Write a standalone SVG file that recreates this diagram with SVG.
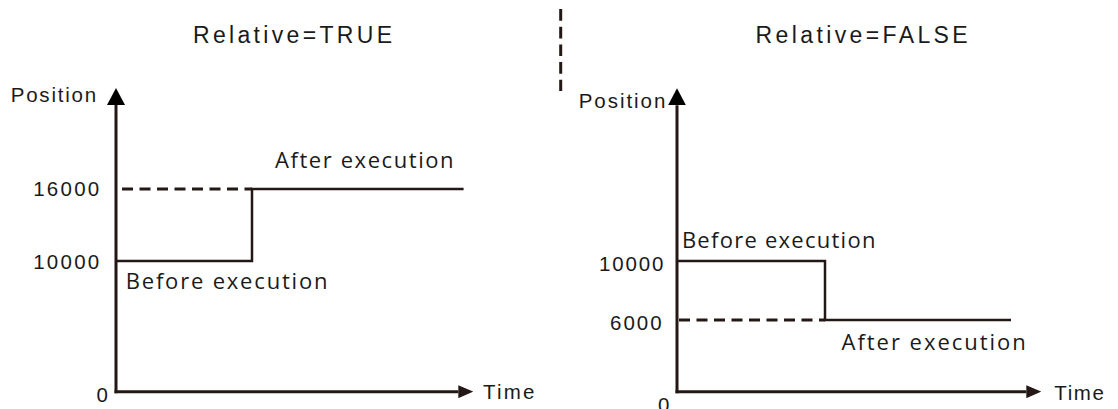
<svg xmlns="http://www.w3.org/2000/svg" width="1118" height="409" viewBox="0 0 1118 409">
<style>
.t{font-family:"Liberation Sans",Arial,sans-serif;fill:#1a1a1a}
.title{font-size:23px}
.lab{font-size:20.5px}
.ex{font-family:"Open Sans","Noto Sans",sans-serif;font-size:22px;fill:#1a1a1a}
.ax{stroke:#231815;stroke-width:3;fill:none}
.sol{stroke:#231815;stroke-width:2.5;fill:none}
.dash{stroke:#231815;stroke-width:3;fill:none;stroke-dasharray:11 6.5}
</style>
<defs>
<marker id="aUp" markerUnits="userSpaceOnUse" viewBox="0 0 17 18" markerWidth="17" markerHeight="18" refX="0" refY="9" orient="auto">
<path d="M0,0 L17,9 L0,18 z" fill="#000"/>
</marker>
<marker id="aRight" markerUnits="userSpaceOnUse" viewBox="0 0 15 13" markerWidth="15" markerHeight="13" refX="0" refY="6.5" orient="auto">
<path d="M0,0 L15,6.5 L0,13 z" fill="#231815"/>
</marker>
</defs>

<g id="divider">
<line x1="560.7" y1="9" x2="560.7" y2="91" stroke="#231815" stroke-width="3" stroke-dasharray="11.7 6"/>
</g>

<g id="chart-true">
<text id="title-true" class="t title" x="193" y="43.3" textLength="199" lengthAdjust="spacing">Relative=TRUE</text>
<text id="pos-true" class="t lab" x="10.7" y="101.7" textLength="85.5" lengthAdjust="spacing">Position</text>
<text id="v16000" class="t lab" x="33.2" y="195.5" textLength="66" lengthAdjust="spacing">16000</text>
<text id="v10000-true" class="t lab" x="33.2" y="268.5" textLength="66" lengthAdjust="spacing">10000</text>
<text id="zero-true" class="t lab" x="96.4" y="402.3">0</text>
<text id="time-true" class="t lab" x="483" y="398.5" textLength="51.5" lengthAdjust="spacing">Time</text>
<text id="after-true" class="ex" x="275" y="167.7" textLength="178.6" lengthAdjust="spacing">After execution</text>
<text id="before-true" class="ex" x="125.7" y="289.3" textLength="201.8" lengthAdjust="spacing">Before execution</text>
</g>

<g id="chart-false">
<text id="title-false" class="t title" x="755.6" y="43.3" textLength="212" lengthAdjust="spacing">Relative=FALSE</text>
<text id="pos-false" class="t lab" x="578.7" y="107.7" textLength="86.6" lengthAdjust="spacing">Position</text>
<text id="v10000-false" class="t lab" x="599" y="271" textLength="64.5" lengthAdjust="spacing">10000</text>
<text id="v6000" class="t lab" x="610" y="330" textLength="51.6" lengthAdjust="spacing">6000</text>
<text id="zero-false" class="t lab" x="658" y="412">0</text>
<text id="time-false" class="t lab" x="1054.2" y="400" textLength="49.8" lengthAdjust="spacing">Time</text>
<text id="before-false" class="ex" x="681.9" y="248.3" textLength="193.5" lengthAdjust="spacing">Before execution</text>
<text id="after-false" class="ex" x="841.5" y="350" textLength="184.3" lengthAdjust="spacing">After execution</text>
</g>

<g id="connectors">
<!-- left chart axes -->
<line class="ax" x1="116" y1="393.2" x2="116" y2="105" marker-end="url(#aUp)"/>
<line class="ax" x1="114.5" y1="391.7" x2="458.3" y2="391.7" marker-end="url(#aRight)"/>
<!-- left chart curves -->
<line class="dash" x1="122" y1="189" x2="252" y2="189"/>
<polyline class="sol" points="116,261 252,261 252,189 463.6,189"/>
<!-- right chart axes -->
<line class="ax" x1="677" y1="393.2" x2="677" y2="105.3" marker-end="url(#aUp)"/>
<line class="ax" x1="675.5" y1="391.7" x2="1026.3" y2="391.7" marker-end="url(#aRight)"/>
<!-- right chart curves -->
<line class="dash" x1="679" y1="320" x2="825" y2="320"/>
<polyline class="sol" points="677,261 825,261 825,320 1011,320"/>
</g>
</svg>
